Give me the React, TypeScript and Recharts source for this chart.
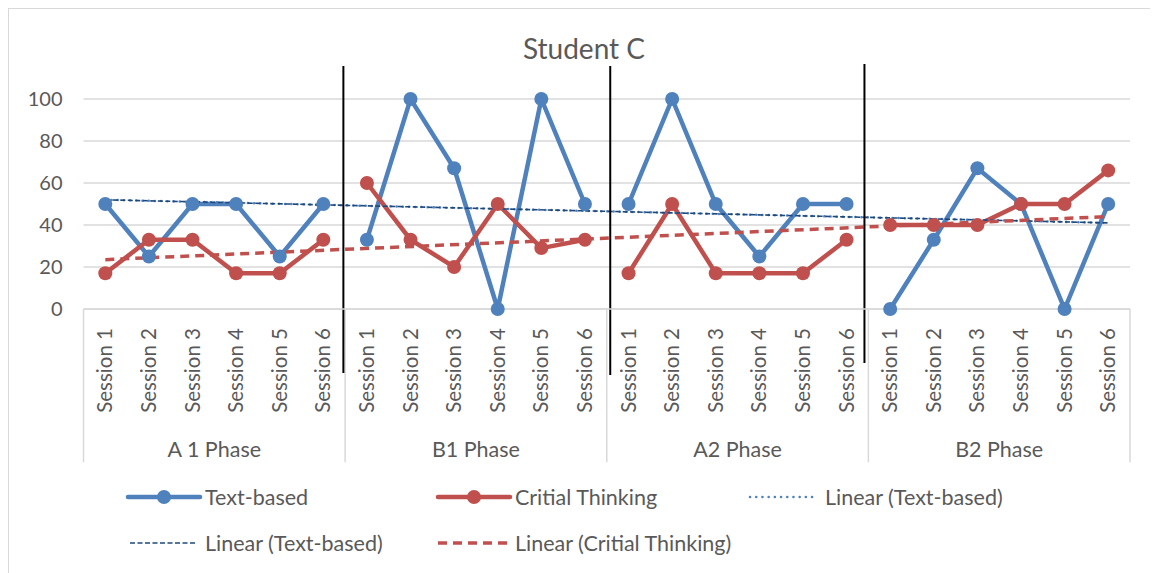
import React from "react";
import { LineChart, Line, XAxis, YAxis, CartesianGrid, ReferenceLine } from "recharts";

const phases = ["A 1 Phase", "B1 Phase", "A2 Phase", "B2 Phase"];
const sessions = ["Session 1", "Session 2", "Session 3", "Session 4", "Session 5", "Session 6"];
const textBased = [50, 25, 50, 50, 25, 50, 33, 100, 67, 0, 100, 50, 50, 100, 50, 25, 50, 50, 0, 33, 67, 50, 0, 50];
const critical = [17, 33, 33, 17, 17, 33, 60, 33, 20, 50, 29, 33, 17, 50, 17, 17, 17, 33, 40, 40, 40, 50, 50, 66];
const trendTextEnds = [52, 41];
const trendCritEnds = [23.5, 44];
const yTicks = [0, 20, 40, 60, 80, 100];
const dividers = [
  { x: 5.46, top: 115.7, bottom: -30.5 },
  { x: 11.58, top: 115.7, bottom: -31.4 },
  { x: 17.41, top: 116.7, bottom: -25.7 },
];

const BLUE = "#4F81BD";
const NAVY = "#1F497D";
const RED = "#C0504D";
const GRAY = "#595959";
const FONT = "Lato, 'Open Sans', sans-serif";

const SX = "a_sessions";
const PX = "b_phases";

const n = textBased.length;
const perPhase = sessions.length;
// rows for each session, plus an empty row between phases so the lines break there
const data: any[] = [];
textBased.forEach((v, i) => {
  if (i > 0 && i % perPhase === 0) data.push({ i: i - 0.5, text: null, crit: null });
  data.push({ i, text: v, crit: critical[i] });
});
const trendText = [{ i: 0, v: trendTextEnds[0] }, { i: n - 1, v: trendTextEnds[1] }];
const trendCrit = [{ i: 0, v: trendCritEnds[0] }, { i: n - 1, v: trendCritEnds[1] }];
const sessionTicks = textBased.map((_, i) => i);
const phaseTicks = phases.map((_, p) => p * perPhase + (perPhase - 1) / 2);
const boundaries = [-0.5, ...phases.map((_, p) => p * perPhase + perPhase - 0.5)];

const SessionTick = (props: any) => {
  const { x, y, payload } = props;
  const tx = x + 7;
  const ty = y + 17;
  return (
    <text x={tx} y={ty} transform={`rotate(-90, ${tx}, ${ty})`} textAnchor="end" fill={GRAY} fontSize={20.5} fontFamily={FONT}>
      {sessions[payload.value % perPhase]}
    </text>
  );
};

const PhaseTick = (props: any) => {
  const { x, y, payload } = props;
  return (
    <text x={x} y={y + 16} dy="0.355em" textAnchor="middle" fill={GRAY} fontSize={21.5} fontFamily={FONT}>
      {phases[Math.floor(payload.value / perPhase)]}
    </text>
  );
};

const legendRows = [
  [
    { label: "Text-based", kind: "marker", color: BLUE, x: 120, tx: 197 },
    { label: "Critial Thinking", kind: "marker", color: RED, x: 430, tx: 507 },
    { label: "Linear (Text-based)", kind: "dots", color: BLUE, x: 740, tx: 817 },
  ],
  [
    { label: "Linear (Text-based)", kind: "navy", color: NAVY, x: 122, tx: 197 },
    { label: "Linear (Critial Thinking)", kind: "reddash", color: RED, x: 430, tx: 507 },
  ],
];

const Swatch = ({ kind, color, x, y }: any) => {
  if (kind === "marker") {
    return (
      <g>
        <line x1={x} y1={y} x2={x + 72} y2={y} stroke={color} strokeWidth={4.5} strokeLinecap="round" />
        <circle cx={x + 36} cy={y} r={7} fill={color} />
      </g>
    );
  }
  if (kind === "dots") {
    return <line x1={x + 2} y1={y} x2={x + 70} y2={y} stroke={color} strokeWidth={2.5} strokeDasharray="0.1 6.1" strokeLinecap="round" />;
  }
  if (kind === "navy") {
    return <line x1={x} y1={y} x2={x + 67} y2={y} stroke={color} strokeWidth={1.6} strokeDasharray="5 2.5" />;
  }
  return <line x1={x} y1={y} x2={x + 71} y2={y} stroke={color} strokeWidth={3.5} strokeDasharray="9 6" />;
};

export default function App() {
  return (
    <div style={{ position: "relative", width: 1150, height: 565 }}>
      <div style={{ position: "absolute", left: 0, top: 0, width: 1150, height: 565, borderLeft: "1px solid #D9D9D9", borderTop: "1px solid #D9D9D9", boxSizing: "border-box" }} />
      <div style={{ position: "absolute", left: 476, top: 25, width: 200, textAlign: "center", fontFamily: FONT, fontSize: 28, lineHeight: "30px", color: GRAY }}>
        Student C
      </div>
      <div style={{ position: "absolute", left: 0, top: 0 }}>
        <LineChart width={1150} height={565} data={data} margin={{ top: 91, right: 28, left: 0, bottom: 96 }}>
          <CartesianGrid vertical={false} stroke="#D9D9D9" strokeWidth={1.5} xAxisId={SX} />
          <XAxis
            xAxisId={SX}
            dataKey="i"
            type="number"
            domain={[-0.5, n - 0.5]}
            ticks={sessionTicks}
            interval={0}
            allowDecimals
            height={122}
            tickSize={0}
            tickLine={false}
            axisLine={{ stroke: "#D9D9D9", strokeWidth: 1.5 }}
            tick={<SessionTick />}
          />
          <XAxis
            xAxisId={PX}
            dataKey="i"
            type="number"
            domain={[-0.5, n - 0.5]}
            ticks={phaseTicks}
            interval={0}
            allowDecimals
            height={46}
            tickSize={0}
            tickLine={false}
            axisLine={false}
            tick={<PhaseTick />}
          />
          <YAxis
            type="number"
            domain={[0, 100]}
            ticks={yTicks}
            width={75.5}
            axisLine={false}
            tickLine={false}
            tickSize={0}
            tickMargin={21}
            tick={{ fill: GRAY, fontSize: 20, fontFamily: FONT }}
          />
          {boundaries.map((b) => (
            <ReferenceLine
              key={"b" + b}
              xAxisId={SX}
              ifOverflow="visible"
              segment={[{ x: b, y: 0 }, { x: b, y: -73 }]}
              stroke="#D9D9D9"
              strokeWidth={1.5}
            />
          ))}
          <Line xAxisId={SX} type="linear" dataKey="text" stroke={BLUE} strokeWidth={4.5} dot={{ r: 7, fill: BLUE, stroke: BLUE, strokeWidth: 0 }} isAnimationActive={false} />
          <Line xAxisId={SX} type="linear" dataKey="crit" stroke={RED} strokeWidth={4.5} dot={{ r: 7, fill: RED, stroke: RED, strokeWidth: 0 }} isAnimationActive={false} />
          <Line xAxisId={SX} data={trendText} dataKey="v" stroke={BLUE} strokeWidth={2.5} strokeDasharray="0.1 6.1" strokeLinecap="round" dot={false} isAnimationActive={false} />
          <Line xAxisId={SX} data={trendText} dataKey="v" stroke={NAVY} strokeWidth={1.6} strokeDasharray="5 2.5" dot={false} isAnimationActive={false} />
          <Line xAxisId={SX} data={trendCrit} dataKey="v" stroke={RED} strokeWidth={3.5} strokeDasharray="9 6" dot={false} isAnimationActive={false} />
          {dividers.map((d) => (
            <ReferenceLine
              key={"d" + d.x}
              xAxisId={SX}
              ifOverflow="visible"
              segment={[{ x: d.x, y: d.top }, { x: d.x, y: d.bottom }]}
              stroke="#000000"
              strokeWidth={2}
            />
          ))}
        </LineChart>
      </div>
      <svg style={{ position: "absolute", left: 0, top: 0 }} width={1150} height={565}>
        {legendRows.map((row, r) =>
          row.map((it, k) => {
            const y = r === 0 ? 489 : 535;
            return (
              <g key={r + "-" + k}>
                <Swatch kind={it.kind} color={it.color} x={it.x} y={y} />
                <text x={it.tx} y={y} dy="0.355em" fill={GRAY} fontSize={21.5} fontFamily={FONT}>
                  {it.label}
                </text>
              </g>
            );
          })
        )}
      </svg>
    </div>
  );
}
